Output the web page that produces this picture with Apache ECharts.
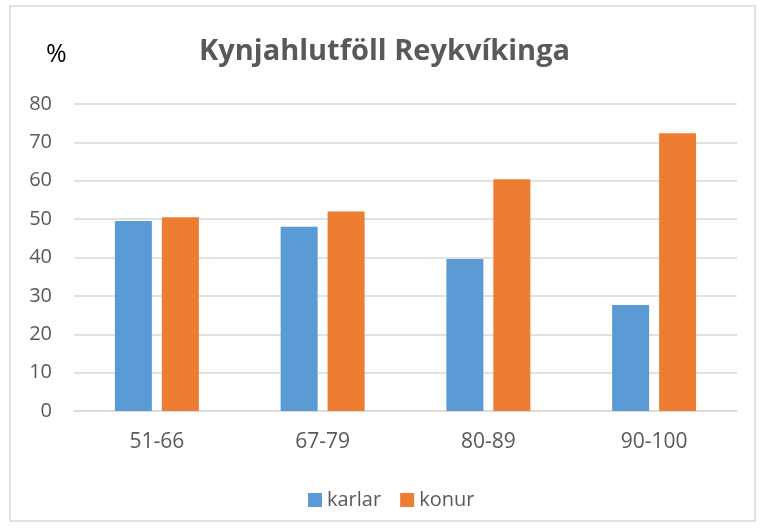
<!DOCTYPE html>
<html>
<head>
<meta charset="utf-8">
<script src="https://cdn.jsdelivr.net/npm/echarts@6/dist/echarts.min.js"></script>
<style>
  html, body { margin: 0; padding: 0; background: #fff; }
  #chart { width: 769px; height: 528px; }
</style>
</head>
<body>
<div id="chart"></div>
<script>
const categories = ['51-66', '67-79', '80-89', '90-100'];
const karlar = [49.5, 48.0, 39.6, 27.6];
const konur = [50.5, 52.0, 60.4, 72.4];
const yTicks = { min: 0, max: 80, interval: 10 };

const font = '"Open Sans", sans-serif';
const chart = echarts.init(document.getElementById('chart'));

chart.setOption({
  backgroundColor: '#fff',
  animation: false,
  title: {
    text: 'Kynjahlutföll Reykvíkinga',
    left: 'center',
    top: 32,
    textStyle: { fontFamily: font, fontSize: 29, fontWeight: 'bold', color: '#595959' }
  },
  graphic: [
    {
      type: 'rect',
      shape: { x: 10, y: 6, width: 745, height: 515 },
      style: { fill: 'none', stroke: '#d9d9d9', lineWidth: 1.5 }
    },
    {
      type: 'text',
      left: 46,
      top: 42,
      style: { text: '%', fontFamily: font, fontSize: 25, fill: '#000' }
    }
  ],
  legend: {
    top: 485,
    left: 303,
    itemWidth: 14,
    itemHeight: 14,
    itemGap: 19,
    icon: 'rect',
    textStyle: { fontFamily: font, fontSize: 20, color: '#595959' },
    data: ['karlar', 'konur']
  },
  grid: { left: 74, right: 32, top: 104, bottom: 117 },
  xAxis: {
    type: 'category',
    data: categories,
    axisTick: { show: false },
    axisLine: { lineStyle: { color: '#d9d9d9', width: 1.5 } },
    axisLabel: { fontFamily: font, fontSize: 21, color: '#595959', margin: 21 }
  },
  yAxis: {
    type: 'value',
    min: yTicks.min,
    max: yTicks.max,
    interval: yTicks.interval,
    axisLine: { show: false },
    axisTick: { show: false },
    splitLine: { lineStyle: { color: '#d9d9d9', width: 1.5 } },
    axisLabel: { fontFamily: font, fontSize: 20, color: '#595959', margin: 22 }
  },
  series: [
    {
      name: 'karlar',
      type: 'bar',
      data: karlar,
      barWidth: 37,
      barGap: '27%',
      itemStyle: { color: '#5b9bd5' }
    },
    {
      name: 'konur',
      type: 'bar',
      data: konur,
      barWidth: 37,
      itemStyle: { color: '#ed7d31' }
    }
  ]
});
</script>
</body>
</html>
